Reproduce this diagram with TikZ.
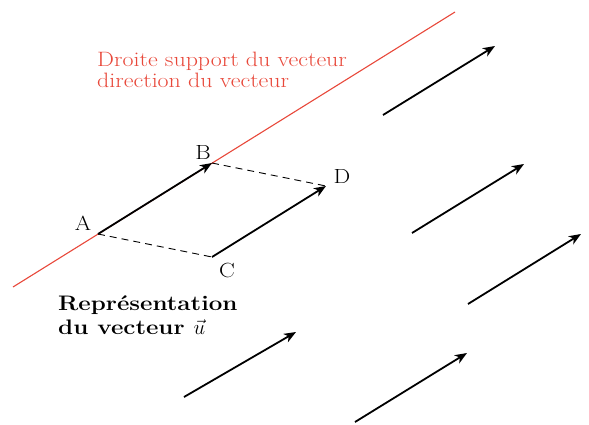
\documentclass[tikz,border=0pt]{standalone}
\usepackage{fontspec}
\newfontfamily\widefont{Latin Modern Roman}[FakeStretch=1.15]
\usetikzlibrary{arrows.meta}
\begin{document}
\begin{tikzpicture}[x=1pt,y=-1pt,
  vec/.style={line width=1.8pt,-{Stealth[length=12pt,width=9.5pt,inset=3.5pt]}},
  dashline/.style={line width=0.9pt,dash pattern=on 7pt off 5pt},
  redline/.style={line width=1.1pt,draw={rgb,255:red,232;green,72;blue,58}},
  lbl/.style={font=\widefont\fontsize{20.5}{24}\selectfont,inner sep=0pt}]
\useasboundingbox (0,0) rectangle (589,424);
% support line
\coordinate (L1) at (13,287);
\coordinate (L2) at (455,12);
\draw[redline] (L1) -- (L2);
% points
\coordinate (A) at (98,234);
\coordinate (B) at (212,163);
\coordinate (C) at (212,257);
\coordinate (D) at (326,186);
\draw[dashline] (A) -- (C);
\draw[dashline] (B) -- (D);
\draw[vec] (A) -- (B);
\draw[vec] (C) -- (D);
\node[lbl] (lA) at (83,223) {A};
\node[lbl] (lB) at (203,152) {B};
\node[lbl] (lC) at (227,270) {C};
\node[lbl] (lD) at (342,176) {D};
% other vectors
\coordinate (P1) at (383,115); \coordinate (Q1) at (495,46);
\coordinate (P2) at (412,233); \coordinate (Q2) at (524,164);
\coordinate (P3) at (468,304); \coordinate (Q3) at (581,234);
\coordinate (P4) at (355,422); \coordinate (Q4) at (467,353);
\coordinate (P5) at (184,397); \coordinate (Q5) at (296,332);
\draw[vec] (P1) -- (Q1);
\draw[vec] (P2) -- (Q2);
\draw[vec] (P3) -- (Q3);
\draw[vec] (P4) -- (Q4);
\draw[vec] (P5) -- (Q5);
% texts
\node[anchor=west,inner sep=0pt,align=left,text={rgb,255:red,232;green,72;blue,58},
  font=\widefont\fontsize{20.8}{21}\selectfont] (red) at (97,70) {Droite support du vecteur\\direction du vecteur};
\node[anchor=west,inner sep=0pt,align=left,
  font=\widefont\bfseries\fontsize{21}{24}\selectfont] (rep) at (58,315) {Représentation\\du vecteur $\vec{u}$};
\end{tikzpicture}
\end{document}
